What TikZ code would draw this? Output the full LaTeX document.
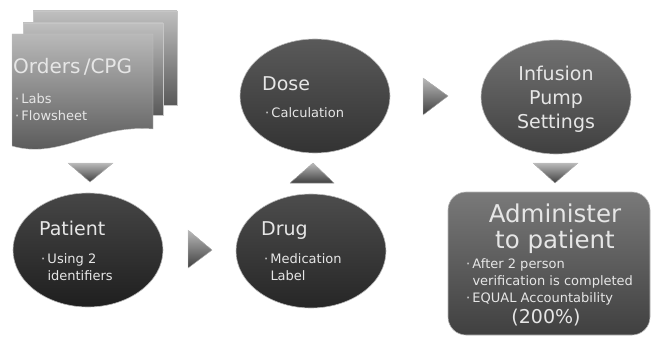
\documentclass[tikz,border=0pt]{standalone}
\usepackage{fontspec}
\setmainfont{DejaVu Sans}
\usetikzlibrary{shapes.geometric}
\definecolor{texteclair}{HTML}{E6E6E6}
\begin{document}
\begin{tikzpicture}[x=1pt,y=-1pt]
		\tikzstyle{bulle}=[ellipse, minimum width=150pt, minimum height=114pt, draw=gray!55, line width=0.6pt]
		\tikzstyle{titre}=[anchor=base west, inner sep=0pt, text=texteclair, font=\fontsize{19}{21}\selectfont]
		\tikzstyle{puce}=[anchor=base west, inner sep=0pt, text=texteclair, align=left, font=\fontsize{13}{17}\selectfont]
		\tikzstyle{fleche}=[top color=gray!55, bottom color=black!75, draw=gray!40, line width=0.3pt]
		\useasboundingbox (0,0) rectangle (655,337);
		% ordonnances (pages empilees)
		\draw[gray!45, top color=gray!50, bottom color=gray!70!black] (33,11) -- (177,11) -- (177,105) -- (33,105) -- cycle;
		\draw[gray!45, top color=gray!50, bottom color=gray!70!black] (23,23) -- (163,23) -- (163,115) -- (23,115) -- cycle;
		\draw[gray!45, top color=gray!55, bottom color=gray!65!black] (12,34) -- (153,34) -- (153,129)
			.. controls (95,124) and (60,160) .. (12,146) -- cycle;
		\node[anchor=base west, inner sep=0pt, text=texteclair, font=\fontsize{20}{22}\selectfont] (ordres) at (13,73) {Orders\,/CPG};
		\node[puce] (labs) at (15,120) {\textperiodcentered\,Labs\\\textperiodcentered\,Flowsheet};
		% bulles
		\node[bulle, top color=gray!55!black, bottom color=black!88] (patient) at (88,250) {};
		\node[bulle, top color=gray!60!black, bottom color=black!85] (drug) at (311,251) {};
		\node[bulle, top color=gray!70!black, bottom color=black!80] (dose) at (315,96) {};
		\node[bulle, top color=gray!90!black, bottom color=gray!50!black] (pompe) at (556,97) {};
		\node[titre] (patientT) at (39,235) {Patient};
		\node[puce] (patientP) at (41,280) {\textperiodcentered\,Using 2\\\phantom{\textperiodcentered\,}identifiers};
		\node[titre] (drugT) at (261,235) {Drug};
		\node[puce] (drugP) at (264,280) {\textperiodcentered\,Medication\\\phantom{\textperiodcentered\,}Label};
		\node[titre] (doseT) at (262,90) {Dose};
		\node[puce] (doseP) at (265,117) {\textperiodcentered\,Calculation};
		\node[anchor=base, inner sep=0pt, text=texteclair, align=center, font=\fontsize{19}{24}\selectfont] (pompeT) at (556,128) {Infusion\\Pump\\Settings};
		% administrer
		\draw[gray!55, line width=0.6pt, rounded corners=18pt, top color=gray!95!black, bottom color=gray!50!black] (448,192) rectangle (650,335);
		\node[anchor=base, inner sep=0pt, text=texteclair, align=center, font=\fontsize{24.5}{26}\selectfont] (admin) at (555,248) {Administer\\to patient};
		\node[puce] (adminP) at (466,302) {\textperiodcentered\,After 2 person\\\phantom{\textperiodcentered\,}verification is completed\\\textperiodcentered\,EQUAL Accountability};
		\node[anchor=base, inner sep=0pt, text=texteclair, font=\fontsize{19}{21}\selectfont] (pourcent) at (546,323) {(200\%)};
		% fleches triangulaires
		\filldraw[fleche] (68,163) -- (113,163) -- (90,182) -- cycle; % vers patient
		\filldraw[fleche] (188,230) -- (212,250) -- (188,268) -- cycle;
		\filldraw[fleche] (290,183) -- (313,163) -- (334,183) -- cycle; % vers dose
		\filldraw[fleche] (423,78) -- (448,96) -- (423,115) -- cycle;
		\filldraw[fleche] (533,163) -- (578,163) -- (555,183) -- cycle; % vers administrer
	\end{tikzpicture}
\end{document}
